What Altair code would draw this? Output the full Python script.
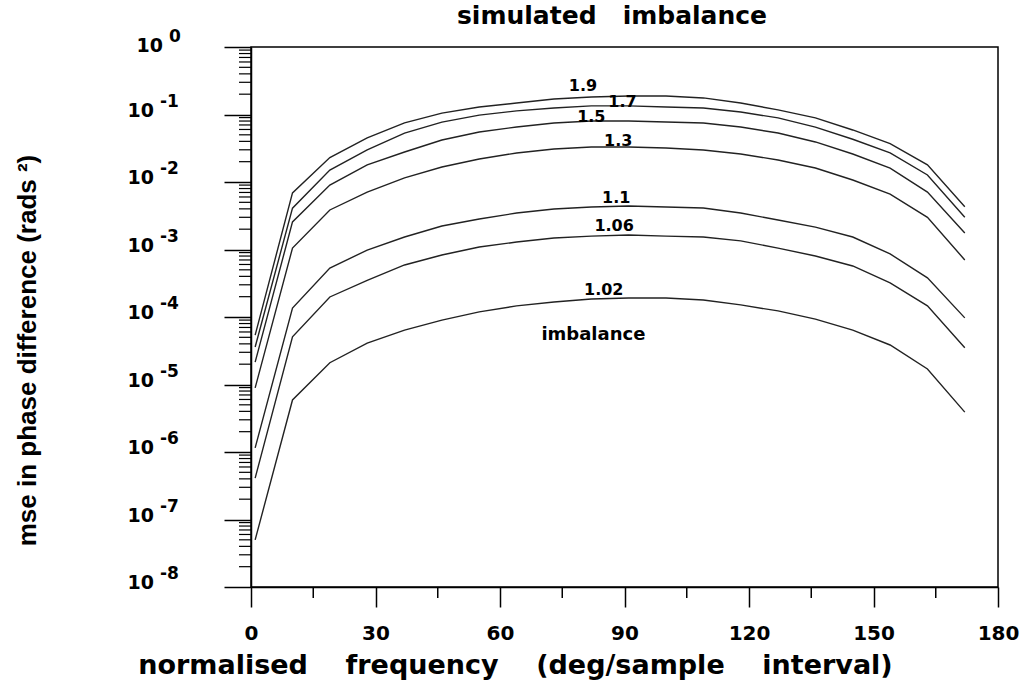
import altair as alt
import pandas as pd

# ---------------- data ----------------
freq = [1, 10, 19, 28, 37, 46, 55, 64, 73, 82, 91, 100, 109, 118, 127, 136, 145, 154, 163, 172]
imbalances = ["1.9", "1.7", "1.5", "1.3", "1.1", "1.06", "1.02"]

mse_1_9 = [5.4e-5, 6.9e-3, 2.3e-2, 4.5e-2, 7.5e-2, 0.105, 0.129, 0.148, 0.170, 0.182,
           0.188, 0.188, 0.176, 0.148, 0.117, 0.089, 0.059, 0.037, 0.018, 0.0043]
mse_1_7 = [3.6e-5, 4.1e-3, 1.5e-2, 3.0e-2, 5.3e-2, 7.7e-2, 9.8e-2, 0.113, 0.125, 0.134,
           0.134, 0.129, 0.125, 0.109, 0.089, 0.065, 0.043, 0.027, 0.0127, 0.0030]
mse_1_5 = [2.15e-5, 2.56e-3, 9.0e-3, 1.79e-2, 2.78e-2, 4.19e-2, 5.51e-2, 6.53e-2, 7.48e-2, 8.01e-2,
           8.01e-2, 7.74e-2, 7.48e-2, 6.53e-2, 5.32e-2, 3.92e-2, 2.60e-2, 1.61e-2, 7.1e-3, 1.76e-3]
mse_1_3 = [8.9e-6, 1.05e-3, 3.85e-3, 7.1e-3, 1.15e-2, 1.67e-2, 2.19e-2, 2.69e-2, 3.08e-2, 3.30e-2,
           3.30e-2, 3.19e-2, 2.98e-2, 2.60e-2, 2.12e-2, 1.61e-2, 1.07e-2, 6.6e-3, 3.0e-3, 7.0e-4]
mse_1_1 = [1.15e-6, 1.36e-4, 5.3e-4, 9.8e-4, 1.53e-3, 2.23e-3, 2.83e-3, 3.47e-3, 3.98e-3, 4.26e-3,
           4.41e-3, 4.26e-3, 4.12e-3, 3.47e-3, 2.74e-3, 2.15e-3, 1.53e-3, 8.6e-4, 3.8e-4, 9.7e-5]
mse_1_06 = [4.1e-7, 5.1e-5, 1.98e-4, 3.5e-4, 5.9e-4, 8.3e-4, 1.09e-3, 1.29e-3, 1.48e-3, 1.58e-3,
            1.64e-3, 1.58e-3, 1.53e-3, 1.34e-3, 1.05e-3, 8.0e-4, 5.7e-4, 3.2e-4, 1.46e-4, 3.5e-5]
mse_1_02 = [5.0e-8, 5.9e-6, 2.1e-5, 4.1e-5, 6.4e-5, 9.0e-5, 1.19e-4, 1.46e-4, 1.67e-4, 1.85e-4,
            1.91e-4, 1.91e-4, 1.79e-4, 1.51e-4, 1.23e-4, 9.3e-5, 6.4e-5, 3.85e-5, 1.7e-5, 3.9e-6]

# curve annotations (data coordinates)
label_text = ["1.9", "1.7", "1.5", "1.3", "1.1", "1.06", "1.02"]
label_x = [80, 89.5, 82, 88.5, 88, 87.5, 85]
label_y = [0.264, 0.153, 0.092, 0.0405, 0.0058, 0.00223, 2.5e-4]
note_text = ["imbalance"]
note_x = [82.5]
note_y = [5.4e-5]
NB = "\u00a0"
title_text = ["simulated" + NB * 3 + "imbalance"]
x_title = (NB * 4).join(["normalised", "frequency", "(deg/sample", "interval)"])

# axis ticks
x_major = [0, 30, 60, 90, 120, 150, 180]
x_minor = [15, 45, 75, 105, 135, 165]
decade_exp = [0, -1, -2, -3, -4, -5, -6, -7, -8]

# ---------------- tables ----------------
series = [mse_1_9, mse_1_7, mse_1_5, mse_1_3, mse_1_1, mse_1_06, mse_1_02]
rows = []
for imb, vals in zip(imbalances, series):
    for f, v in zip(freq, vals):
        rows.append({"freq": f, "mse": v, "imb": imb})
df = pd.DataFrame(rows)

labels_df = pd.DataFrame({"freq": label_x, "mse": label_y, "txt": label_text})
note_df = pd.DataFrame({"freq": note_x, "mse": note_y, "txt": note_text})
title_df = pd.DataFrame({"txt": title_text})
dec_df = pd.DataFrame({"mse": [10.0 ** e for e in decade_exp],
                       "exp": [str(e) for e in decade_exp]})
ymin_df = pd.DataFrame({"mse": [m * 10.0 ** k for k in range(-8, 0) for m in range(2, 10)]})
xmin_df = pd.DataFrame({"freq": x_minor})

xs = alt.Scale(domain=[0, 180], nice=False, zero=False)
ys = alt.Scale(type="log", domain=[1e-8, 1], nice=False)

BOLD = "DejaVu Sans"

x_axis = alt.Axis(values=x_major, tickSize=20, tickWidth=1.5, tickColor="black",
                  domainColor="black", domainWidth=1.5, grid=False,
                  labelFont=BOLD, labelFontWeight="bold", labelFontSize=20,
                  labelColor="black", labelPadding=16, labelFlush=False,
                  title=x_title,
                  titleFont=BOLD, titleFontWeight="bold", titleFontSize=27,
                  titleColor="black", titleX=264, titleY=78,
                  titleBaseline="middle", titleAlign="center")
y_axis = alt.Axis(values=[10.0 ** e for e in decade_exp], labels=False,
                  tickSize=27, tickWidth=1.5, tickColor="black",
                  domainColor="black", domainWidth=1.5, grid=False,
                  title="mse in phase difference (rads \u00b2)",
                  titleFont="Liberation Sans Narrow, Liberation Sans",
                  titleFontWeight="bold", titleFontSize=26, titleColor="black",
                  titleAngle=270, titleX=-224, titleY=303,
                  titleBaseline="middle", titleAlign="center")

X = alt.X("freq:Q", scale=xs, axis=x_axis)
Y = alt.Y("mse:Q", scale=ys, axis=y_axis)

lines = alt.Chart(df).mark_line(color="#222222", strokeWidth=1.4).encode(
    x=X, y=Y, detail="imb:N")

curve_labels = alt.Chart(labels_df).mark_text(
    font=BOLD, fontWeight="bold", fontSize=16, color="black", baseline="middle", align="center"
).encode(x=X, y=Y, text="txt:N")

note = alt.Chart(note_df).mark_text(
    font=BOLD, fontWeight="bold", fontSize=18, color="black", baseline="middle", align="center"
).encode(x=X, y=Y, text="txt:N")

y_minor = alt.Chart(ymin_df).mark_rule(color="black", strokeWidth=1.2).encode(
    y=Y, x=alt.value(-12), x2=alt.value(0))

x_minor_ticks = alt.Chart(xmin_df).mark_rule(color="black", strokeWidth=1.5).encode(
    x=X, y=alt.value(540), y2=alt.value(551))

base_ten = alt.Chart(dec_df).transform_filter("datum.exp != '0'").mark_text(
    font=BOLD, fontWeight="bold", fontSize=19, color="black", align="right", baseline="middle", dy=-4
).encode(y=Y, x=alt.value(-97), text=alt.value("10"))

base_ten0 = alt.Chart(dec_df).transform_filter("datum.exp == '0'").mark_text(
    font=BOLD, fontWeight="bold", fontSize=19, color="black", align="right", baseline="middle", dy=-1
).encode(y=Y, x=alt.value(-88), text=alt.value("10"))

expo = alt.Chart(dec_df).transform_filter("datum.exp != '0'").mark_text(
    font=BOLD, fontWeight="bold", fontSize=17, color="black", align="left", baseline="middle", dy=-13
).encode(y=Y, x=alt.value(-91), text="exp:N")

expo0 = alt.Chart(dec_df).transform_filter("datum.exp == '0'").mark_text(
    font=BOLD, fontWeight="bold", fontSize=17, color="black", align="left", baseline="middle", dy=-10
).encode(y=Y, x=alt.value(-82), text="exp:N")

title = alt.Chart(title_df).mark_text(
    font=BOLD, fontWeight="bold", fontSize=25, color="black", align="center", baseline="middle"
).encode(x=alt.value(361), y=alt.value(-31), text="txt:N")

chart = alt.layer(
    lines, y_minor, x_minor_ticks, curve_labels, note, base_ten, base_ten0, expo, expo0, title
).properties(
    width=747,
    height=540,
    padding={"left": 251, "top": 47, "right": 31, "bottom": 102},
    autosize=alt.AutoSizeParams(type="none"),
    background="white",
).configure_view(
    stroke="black", strokeWidth=1.5
)

chart.save("out.html", embed_options={"renderer": "svg", "actions": False})
